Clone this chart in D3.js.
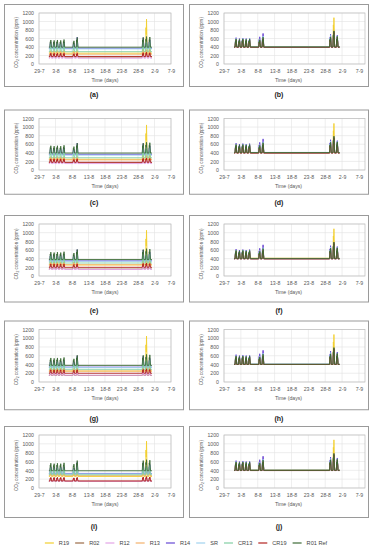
<!DOCTYPE html>
<html lang="en">
<head>
  <meta charset="UTF-8">
  <title>CO2 concentration</title>
  <script src="https://cdn.jsdelivr.net/npm/d3@7"></script>
  <style>
    body { margin: 0; background: #fff; }
    text { font-family: "Liberation Sans", Arial, sans-serif; }
  </style>
</head>
<body>
<svg id="chart" width="373" height="550"></svg>
<script>
  // series names and colours (legend order)
  var series = ["R19", "R02", "R12", "R13", "R14", "SR", "CR13", "CR19", "R01 Ref"];
  var colors = ["#f2cf2e", "#9b6a45", "#e3a3e6", "#f3b06a", "#6547d4", "#9fd2ef", "#82cfa3", "#b3231f", "#3b6a34"];

  // occupied days (spikes) and the period covered by the measurements
  var occDays = ["2016-08-01", "2016-08-02", "2016-08-03", "2016-08-04", "2016-08-05",
                 "2016-08-08", "2016-08-09", "2016-08-29", "2016-08-30", "2016-08-31"];
  var dataStart = "2016-08-01T00:00";
  var dataEnd = "2016-09-01T06:00";

  // x tick labels
  var tickDates = ["2016-07-29", "2016-08-03", "2016-08-08", "2016-08-13", "2016-08-18",
                   "2016-08-23", "2016-08-28", "2016-09-02", "2016-09-07"];
  var yTicks = [0, 200, 400, 600, 800, 1000, 1200];

  // unoccupied level per series (ppm), left column panels
  var baseA = [255, 165, 135, 230, 370, 355, 290, 175, 395];
  var baseC = [250, 170, 150, 235, 365, 345, 285, 180, 395];
  var baseE = [255, 160, 150, 260, 350, 340, 300, 200, 380];
  var baseG = [250, 150, 155, 250, 340, 330, 290, 200, 380];
  var baseI = [260, 150, 150, 280, 330, 320, 300, 160, 390];
  // right column panels
  var baseB = [410, 395, 400, 405, 400, 410, 405, 395, 400];
  var baseD = [405, 400, 395, 400, 405, 410, 400, 395, 405];
  var baseF = [410, 400, 400, 405, 400, 405, 405, 395, 400];
  var baseH = [405, 400, 400, 400, 405, 410, 400, 400, 405];
  var baseJ = [410, 400, 395, 405, 400, 405, 400, 395, 400];

  // rise above the level on each occupied day, left column
  var riseLeft = [
    [60, 60, 60, 60, 60, 50, 60, 120, 800, 100],
    [80, 80, 80, 80, 80, 70, 80, 90, 100, 90],
    [60, 60, 60, 60, 60, 50, 60, 70, 80, 70],
    [70, 70, 70, 70, 70, 60, 70, 90, 100, 90],
    [150, 140, 150, 140, 150, 120, 260, 250, 150, 200],
    [140, 130, 140, 130, 140, 110, 200, 210, 180, 190],
    [120, 110, 120, 110, 120, 100, 150, 160, 200, 150],
    [80, 80, 80, 80, 80, 70, 80, 90, 100, 90],
    [170, 160, 170, 160, 180, 150, 230, 230, 250, 240]
  ];
  // right column
  var riseRight = [
    [160, 150, 170, 160, 150, 140, 180, 200, 680, 200],
    [180, 170, 180, 170, 180, 160, 200, 250, 380, 250],
    [200, 180, 200, 190, 200, 220, 300, 250, 300, 260],
    [170, 160, 170, 160, 170, 150, 200, 220, 300, 230],
    [220, 200, 210, 200, 210, 240, 320, 300, 250, 280],
    [190, 170, 190, 180, 190, 180, 250, 260, 280, 250],
    [180, 170, 180, 170, 180, 170, 220, 230, 300, 240],
    [170, 160, 170, 160, 170, 150, 200, 220, 350, 230],
    [190, 180, 190, 180, 190, 170, 230, 240, 380, 250]
  ];

  // shape of one occupied day: hour of day and share of the rise
  var dayHours = [7, 10, 12, 14, 19];
  var dayShare = [0, 0.75, 0.55, 1, 0];

  var panels = [
    { label: "(a)", col: 0, row: 0, base: baseA, rise: riseLeft },
    { label: "(b)", col: 1, row: 0, base: baseB, rise: riseRight },
    { label: "(c)", col: 0, row: 1, base: baseC, rise: riseLeft },
    { label: "(d)", col: 1, row: 1, base: baseD, rise: riseRight },
    { label: "(e)", col: 0, row: 2, base: baseE, rise: riseLeft },
    { label: "(f)", col: 1, row: 2, base: baseF, rise: riseRight },
    { label: "(g)", col: 0, row: 3, base: baseG, rise: riseLeft },
    { label: "(h)", col: 1, row: 3, base: baseH, rise: riseRight },
    { label: "(i)", col: 0, row: 4, base: baseI, rise: riseLeft },
    { label: "(j)", col: 1, row: 4, base: baseJ, rise: riseRight }
  ];

  var parse = function(s) { return new Date(s.length > 10 ? s : s + "T00:00"); };
  var svg = d3.select("#chart");

  function buildSeries(base, rise) {
    var pts = [[parse(dataStart), base]];
    occDays.forEach(function(d, k) {
      var day = parse(d);
      dayHours.forEach(function(h, j) {
        pts.push([d3.timeHour.offset(day, h), base + rise[k] * dayShare[j]]);
      });
    });
    pts.push([parse(dataEnd), base]);
    return pts;
  }

  panels.forEach(function(p) {
    var r = p.row;
    var boxX = p.col === 0 ? 4 : 189;
    var boxTop = 4 + 105.5 * r;
    var boxBottom = 86 + 107.75 * r;
    var plotLeft = p.col === 0 ? 39 : 224;
    var plotRight = p.col === 0 ? 171 : 365;
    var plotTop = boxTop + 9;
    var plotBottom = boxTop + 60 + r * 0.5;
    var xEnd = p.col === 0 ? parse("2016-09-07") : parse("2016-09-08T19:00");

    svg.append("rect")
      .attr("x", boxX + 0.5).attr("y", boxTop + 0.5)
      .attr("width", 179).attr("height", boxBottom - boxTop)
      .attr("fill", "#fff").attr("stroke", "#9a9a9a").attr("stroke-width", 1);

    var x = d3.scaleTime().domain([parse("2016-07-29"), xEnd]).range([plotLeft, plotRight]);
    var y = d3.scaleLinear().domain([0, 1200]).range([plotBottom, plotTop]);

    var g = svg.append("g");

    // gridlines
    g.selectAll(".hg").data(yTicks).enter().append("line")
      .attr("x1", plotLeft).attr("x2", plotRight)
      .attr("y1", function(d) { return y(d); }).attr("y2", function(d) { return y(d); })
      .attr("stroke", "#e3e3e3").attr("stroke-width", 0.6);
    g.selectAll(".vg").data(tickDates).enter().append("line")
      .attr("x1", function(d) { return x(parse(d)); }).attr("x2", function(d) { return x(parse(d)); })
      .attr("y1", plotTop).attr("y2", plotBottom)
      .attr("stroke", "#e3e3e3").attr("stroke-width", 0.6);

    // axes (labels only, Excel style)
    var yAxis = g.append("g").attr("transform", "translate(" + (plotLeft - 3) + ",0)")
      .call(d3.axisLeft(y).tickValues(yTicks).tickSize(0).tickPadding(2).tickFormat(d3.format("d")));
    var xAxis = g.append("g").attr("transform", "translate(0," + (plotBottom + 3) + ")")
      .call(d3.axisBottom(x).tickValues(tickDates.map(parse)).tickSize(0).tickPadding(2)
        .tickFormat(d3.timeFormat("%-d-%-m")));
    [yAxis, xAxis].forEach(function(a) {
      a.select(".domain").remove();
      a.selectAll("text").attr("fill", "#595959").style("font-size", "5.2px");
    });

    // lines
    var line = d3.line()
      .x(function(d) { return x(d[0]); })
      .y(function(d) { return y(d[1]); });
    series.forEach(function(s, i) {
      g.append("path")
        .datum(buildSeries(p.base[i], p.rise[i]))
        .attr("d", line)
        .attr("fill", "none")
        .attr("stroke", colors[i])
        .attr("stroke-width", 0.9);
    });

    // plot frame
    g.append("rect")
      .attr("x", plotLeft).attr("y", plotTop)
      .attr("width", plotRight - plotLeft).attr("height", plotBottom - plotTop)
      .attr("fill", "none").attr("stroke", "#bdbdbd").attr("stroke-width", 0.7);

    // titles
    g.append("text")
      .attr("x", (plotLeft + plotRight) / 2 - (p.col === 0 ? 0 : 6))
      .attr("y", plotBottom + 18)
      .attr("text-anchor", "middle")
      .attr("fill", "#595959")
      .style("font-size", "5.2px")
      .text("Time (days)");

    var yt = g.append("text")
      .attr("transform", "translate(" + (boxX + 14) + "," + ((plotTop + plotBottom) / 2 + 4) + ") rotate(-90)")
      .attr("text-anchor", "middle")
      .attr("fill", "#595959")
      .style("font-size", "4.6px");
    yt.append("tspan").text("CO");
    yt.append("tspan").attr("dy", 1.2).style("font-size", "3.4px").text("2");
    yt.append("tspan").attr("dy", -1.2).text(" concentration (ppm)");

    svg.append("text")
      .attr("x", p.col === 0 ? 94 : 279)
      .attr("y", 97 + 108 * r)
      .attr("text-anchor", "middle")
      .attr("fill", "#222")
      .style("font-size", "7px")
      .style("font-weight", "bold")
      .text(p.label);
  });

  // legend
  var legend = svg.append("g").attr("transform", "translate(0,543)");
  var xpos = 0;
  var items = [];
  series.forEach(function(s, i) {
    var it = legend.append("g");
    it.append("line").attr("x1", 0).attr("x2", 9).attr("y1", 0).attr("y2", 0)
      .attr("stroke", colors[i]).attr("stroke-width", 1.2);
    var t = it.append("text").attr("x", 14).attr("y", 2).attr("fill", "#444")
      .style("font-size", "5.6px").text(s);
    var w = 14 + t.node().getComputedTextLength();
    items.push({ g: it, x: xpos });
    xpos += w + 6;
  });
  var total = xpos - 6;
  var off = 186 - total / 2;
  items.forEach(function(d) { d.g.attr("transform", "translate(" + (off + d.x) + ",0)"); });
</script>
</body>
</html>
